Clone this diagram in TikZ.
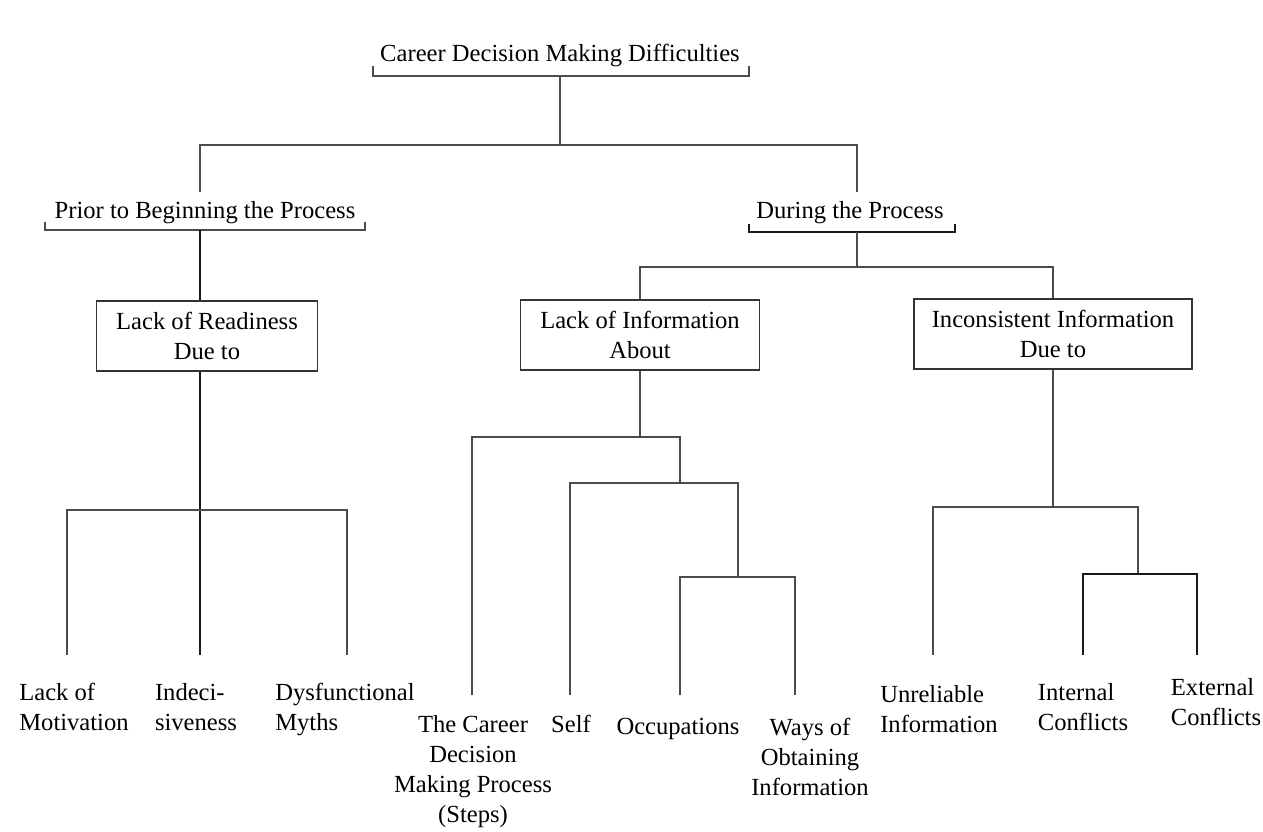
\documentclass[tikz,border=0pt]{standalone}
\usepackage{fontspec}
\setmainfont{Liberation Serif}
\usetikzlibrary{calc}
\tikzset{
  lbl/.style={font=\fontsize{14}{17}\selectfont, inner sep=0pt},
  box/.style={draw, black!80, text=black, line width=0.8pt, minimum height=1.4cm,
    align=center, font=\fontsize{14}{17}\selectfont},
  ln/.style={line width=0.7pt, black!70},
  thk/.style={line width=1.1pt, black!90},
}

\begin{document}
\begin{tikzpicture}[x=0.02cm, y=-0.02cm]
    \useasboundingbox (0,0) rectangle (1263,831);
    % headings
    \node[lbl] (cdmd) at (560,55) {Career Decision Making Difficulties};
    \draw[ln] (373,66) |- (749,76) -- (749,66);
    \coordinate (cdmdb) at (560,76);
    \node[lbl] (prior) at (205,213) {Prior to Beginning the Process};
    \draw[ln] (45,222) |- (365,230) -- (365,222);
    \coordinate (priorb) at (200,230);
    \node[lbl] (during) at (850,213) {During the Process};
    \draw[thk] (749,224) |- (955,232) -- (955,224);
    \coordinate (duringb) at (857,232);
    \coordinate (j1) at (560,145);
    \draw[ln] (cdmdb) -- (j1);
    \draw[ln] (200,192) |- (j1) -| (857,192);
    % boxes
    \node[box, minimum width=4.42cm] (ready) at (207,336) {Lack of Readiness\\Due to};
    \node[box, minimum width=4.78cm] (info) at (640,335) {Lack of Information\\About};
    \node[box, minimum width=5.56cm] (incons) at (1053,334) {Inconsistent Information\\Due to};
    \draw[thk] (priorb) -- (priorb |- ready.north);
    \coordinate (j2) at (857,267);
    \draw[ln] (duringb) -- (j2);
    \draw[ln] (info.north) |- (j2) -| (incons.north);
    % left branch
    \coordinate (j3) at (200,510);
    \coordinate (motT) at (67,655);
    \coordinate (indT) at (200,655);
    \coordinate (dysT) at (347,655);
    \draw[thk] (ready.south -| j3) -- (indT);
    \draw[ln] (motT) |- (j3) -| (dysT);
    \node[lbl, anchor=north, align=left] (mot) at (74,683) {Lack of\\Motivation};
    \node[lbl, anchor=north, align=left] (ind) at (196,683) {Indeci-\\siveness};
    \node[lbl, anchor=north, align=left] (dys) at (345,683) {Dysfunctional\\Myths};
    % middle branch
    \coordinate (j4) at (640,437);
    \coordinate (j5) at (680,483);
    \coordinate (j6) at (738,577);
    \coordinate (stepsT) at (472,695);
    \coordinate (selfT) at (570,695);
    \coordinate (occT) at (680,695);
    \coordinate (waysT) at (795,695);
    \draw[ln] (info.south) -- (j4);
    \draw[ln] (stepsT) |- (j4) -| (j5);
    \draw[ln] (selfT) |- (j5) -| (j6);
    \draw[ln] (occT) |- (j6) -| (waysT);
    \node[lbl, anchor=north, align=center] (steps) at (473,715) {The Career\\Decision\\Making Process\\(Steps)};
    \node[lbl, anchor=north] (self) at (571,715) {Self};
    \node[lbl, anchor=north] (occ) at (678,718) {Occupations};
    \node[lbl, anchor=north, align=center] (ways) at (810,718) {Ways of\\Obtaining\\Information};
    % right branch
    \coordinate (j7) at (1053,507);
    \coordinate (j8) at (1138,574);
    \coordinate (unrelT) at (933,655);
    \coordinate (intT) at (1083,655);
    \coordinate (extT) at (1197,655);
    \draw[ln] (incons.south) -- (j7);
    \draw[ln] (unrelT) |- (j7) -| (j8);
    \draw[thk] (intT) |- (j8) -| (extT);
    \node[lbl, anchor=north, align=left] (unrel) at (939,685) {Unreliable\\Information};
    \node[lbl, anchor=north, align=left] (int) at (1083,683) {Internal\\Conflicts};
    \node[lbl, anchor=north, align=left] (ext) at (1216,678) {External\\Conflicts};
\end{tikzpicture}
\end{document}
